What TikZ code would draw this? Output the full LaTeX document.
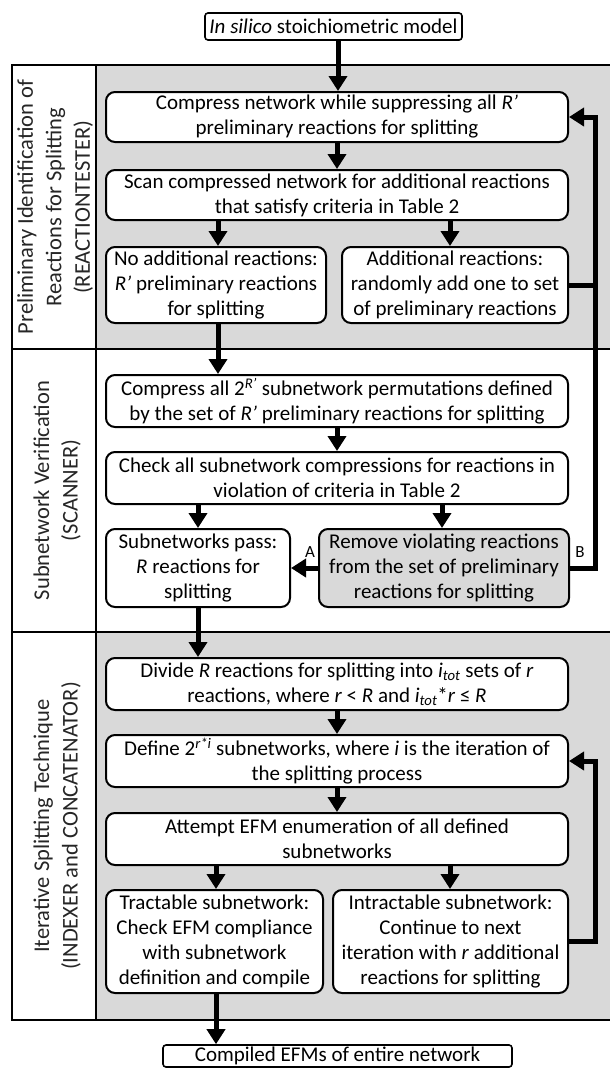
\documentclass[tikz,border=0pt]{standalone}
\usepackage{fontspec}
\setmainfont{Carlito}
\usetikzlibrary{arrows.meta}
\begin{document}
\begin{tikzpicture}[x=1pt,y=-1pt,
  box/.style={draw, line width=2pt, rounded corners=9pt, fill=white, align=center, inner sep=0pt, font=\fontsize{21}{25}\selectfont},
  graybox/.style={box, fill=black!15},
  endbox/.style={draw, line width=1.6pt, rounded corners=3pt, fill=white, align=center, inner sep=0pt, font=\fontsize{21}{23}\selectfont},
  arr/.style={line width=5pt, -{Triangle[width=18pt,length=15pt]}},
  thickline/.style={line width=5pt},
  frame/.style={line width=2pt},
  lane/.style={rotate=90, align=center, inner sep=0pt, font=\fontsize{22.5}{28.5}\selectfont, text=black!85},
  tag/.style={font=\fontsize{17}{19}\selectfont, inner sep=0pt}
]
\useasboundingbox (0,0) rectangle (610,1069);
% lane backgrounds
\fill[black!15] (96,65) rectangle (615,349);
\fill[black!15] (96,632) rectangle (615,1020);
\draw[frame] (12,65) rectangle (615,1020);
\draw[frame] (12,349) -- (615,349);
\draw[frame] (12,632) -- (615,632);
\draw[frame] (96,65) -- (96,1020);

% lane labels
\node[lane] (l1) at (55,207) {Preliminary Identification of\\Reactions for Splitting\\(REACTIONTESTER)};
\node[lane] (l2) at (57,490.5) {Subnetwork Verification\\(SCANNER)};
\node[lane] (l3) at (57,826) {Iterative Splitting Technique\\(INDEXER and CONCATENATOR)};

% nodes
\node[endbox, minimum width=257pt, minimum height=27pt] (top) at (333.5,26.5) {\textit{In silico} stoichiometric model};
\node[box, minimum width=462pt, minimum height=50pt] (a1) at (337,117) {Compress network while suppressing all \textit{R’}\\preliminary reactions for splitting};
\node[box, minimum width=462pt, minimum height=50pt] (a2) at (337,195) {Scan compressed network for additional reactions\\that satisfy criteria in Table 2};
\node[box, minimum width=220pt, minimum height=76pt] (a3) at (216,285) {No additional reactions:\\\textit{R’} preliminary reactions\\for splitting};
\node[box, minimum width=226pt, minimum height=76pt] (a4) at (455,285) {Additional reactions:\\randomly add one to set\\of preliminary reactions};

\node[box, minimum width=462pt, minimum height=52pt] (b1) at (337,401) {Compress all 2\textsuperscript{\textit{R’}} subnetwork permutations defined\\by the set of \textit{R’} preliminary reactions for splitting};
\node[box, minimum width=462pt, minimum height=52pt] (b2) at (337,478) {Check all subnetwork compressions for reactions in\\violation of criteria in Table 2};
\node[box, minimum width=184pt, minimum height=78pt] (b3) at (198,568) {Subnetworks pass:\\\textit{R} reactions for\\splitting};
\node[graybox, minimum width=250pt, minimum height=78pt] (b4) at (444,568) {Remove violating reactions\\from the set of preliminary\\reactions for splitting};

\node[box, minimum width=462pt, minimum height=52pt] (c1) at (337,684) {Divide \textit{R} reactions for splitting into \textit{i}\textsubscript{\textit{tot}} sets of \textit{r}\\reactions, where \textit{r} < \textit{R} and \textit{i}\textsubscript{\textit{tot}}*\textit{r} ≤ \textit{R}};
\node[box, minimum width=462pt, minimum height=52pt] (c2) at (337,761) {Define 2\textsuperscript{\textit{r*i}} subnetworks, where \textit{i} is the iteration of\\the splitting process};
\node[box, minimum width=462pt, minimum height=52pt] (c3) at (337,839) {Attempt EFM enumeration of all defined\\subnetworks};
\node[box, minimum width=217pt, minimum height=103pt] (c4) at (214.5,941.5) {Tractable subnetwork:\\Check EFM compliance\\with subnetwork\\definition and compile};
\node[box, minimum width=235pt, minimum height=103pt] (c5) at (450.5,941.5) {Intractable subnetwork:\\Continue to next\\iteration with \textit{r} additional\\reactions for splitting};
\node[endbox, minimum width=349pt, minimum height=22pt] (fin) at (337.5,1056) {Compiled EFMs of entire network};

% helper x positions
\coordinate (xtop) at (338,0);
\coordinate (xl1) at (218,0);
\coordinate (xr1) at (450,0);
\coordinate (xl2) at (198,0);
\coordinate (xr2) at (442,0);
\coordinate (xl3) at (216,0);
\coordinate (xr3) at (450,0);
\coordinate (loop) at (595,0);

% connectors
\draw[arr] (top.south -| xtop) -- (a1.north -| xtop);
\draw[arr] (a1.south) -- (a2.north);
\draw[arr] (a2.south -| xl1) -- (a3.north -| xl1);
\draw[arr] (a2.south -| xr1) -- (a4.north -| xr1);
\draw[arr] (a3.south -| xl1) -- (b1.north -| xl1);
\draw[thickline] (a4.east) -- (a4.east -| loop);
\draw[arr] (b4.east) -- (b4.east -| loop) -- (a1.east -| loop) -- (a1.east);

\draw[arr] (b1.south) -- (b2.north);
\draw[arr] (b2.south -| xl2) -- (b3.north -| xl2);
\draw[arr] (b2.south -| xr2) -- (b4.north -| xr2);
\draw[arr] (b4.west) -- (b3.east);
\node[tag] (ta) at (310,552) {A};
\node[tag] (tb) at (580,552) {B};
\draw[arr] (b3.south -| xl2) -- (c1.north -| xl2);

\draw[arr] (c1.south) -- (c2.north);
\draw[arr] (c2.south) -- (c3.north);
\draw[arr] (c3.south -| xl3) -- (c4.north -| xl3);
\draw[arr] (c3.south -| xr3) -- (c5.north -| xr3);
\draw[arr] (c5.east) -- (c5.east -| loop) -- (c2.east -| loop) -- (c2.east);
\draw[arr] (c4.south -| xl3) -- (fin.north -| xl3);
\end{tikzpicture}
\end{document}
